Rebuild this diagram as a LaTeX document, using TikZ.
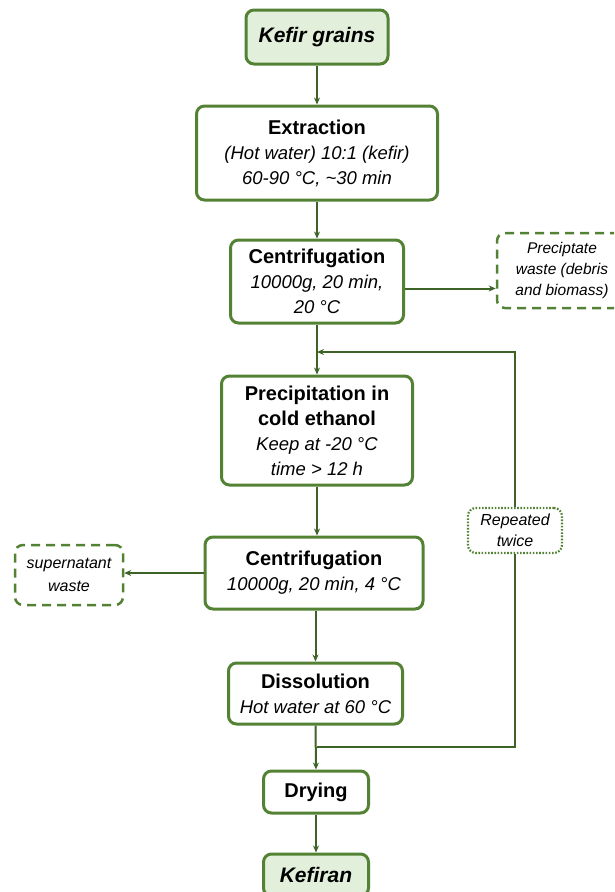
\documentclass[tikz,border=0pt]{standalone}
\usepackage{fontspec}
\setmainfont{Liberation Sans}
\usetikzlibrary{arrows.meta}
\definecolor{boxgreen}{HTML}{548235}
\definecolor{linegreen}{HTML}{3D6326}
\definecolor{fillgreen}{HTML}{E2EFDA}
\newcommand{\ttl}[1]{{\fontsize{20}{25}\selectfont\bfseries #1}}
\newcommand{\dtl}[1]{{\fontsize{18.5}{25}\selectfont\itshape #1}}

\tikzset{
  procbox/.style={draw=boxgreen, line width=3pt, rounded corners=8pt, fill=white,
    align=center, inner sep=2pt, font=\fontsize{18.5}{25}\selectfont},
  endbox/.style={procbox, fill=fillgreen, font=\fontsize{21}{25}\selectfont\bfseries\itshape},
  wastebox/.style={draw=boxgreen, line width=2.5pt, rounded corners=8pt,
    dash pattern=on 9pt off 6pt, align=center, inner sep=2pt,
    font=\fontsize{15.5}{21}\selectfont\itshape},
  notebox/.style={wastebox, fill=white, dash pattern=on 1.6pt off 1.6pt, line width=2.2pt,
    font=\fontsize{16}{21}\selectfont\itshape},
  flow/.style={draw=linegreen, line width=2pt, -{Stealth[length=7pt,width=6pt]}},
  link/.style={draw=linegreen, line width=2pt}
}

\begin{document}
\begin{tikzpicture}[x=1pt,y=-1pt]
\clip (0,0) rectangle (614,892);

\node[endbox, minimum width=142, minimum height=54] (grains) at (317,37) {Kefir grains};
\node[procbox, minimum width=241, minimum height=94] (extr) at (317,153)
  {\ttl{Extraction}\\ \dtl{(Hot water) 10:1 (kefir)}\\ \dtl{60-90 °C, \textasciitilde30 min}};
\node[procbox, minimum width=173, minimum height=83] (centa) at (317,281.5)
  {\ttl{Centrifugation}\\ \dtl{10000g, 20 min,}\\ \dtl{20 °C}};
\node[wastebox, minimum width=130, minimum height=75] (pwaste) at (562,270.5)
  {Preciptate\\ waste (debris\\ and biomass)};
\node[procbox, minimum width=191, minimum height=109] (prec) at (317,430.5)
  {\ttl{Precipitation in}\\ \ttl{cold ethanol}\\ \dtl{Keep at -20 °C}\\ \dtl{time > 12 h}};
\node[procbox, minimum width=218, minimum height=72] (centb) at (314,573)
  {\ttl{Centrifugation}\\ \dtl{10000g, 20 min, 4 °C}};
\node[wastebox, minimum width=108, minimum height=60, font=\fontsize{16}{23}\selectfont\itshape]
  (swaste) at (69,575) {supernatant\\ waste};
\node[procbox, minimum width=174, minimum height=61] (diss) at (315.5,693.5)
  {\ttl{Dissolution}\\ \dtl{Hot water at 60 °C}};
\node[procbox, minimum width=105, minimum height=42] (dry) at (316,792) {\ttl{Drying}};
\node[endbox, minimum width=105, minimum height=42] (kefiran) at (316,875) {Kefiran};
\node[notebox, minimum width=94, minimum height=45] (twice) at (515,530.5)
  {Repeated\\ twice};

\coordinate (loopin) at (317,352);
\coordinate (loopout) at (317,747);

\draw[flow] (grains) -- (extr);
\draw[flow] (extr.south) -- (centa.north);
\draw[flow] ([yshift=-7pt]centa.east) -- ([yshift=-7pt]centa.east -| pwaste.west);
\draw[flow] (centa.south) -- (prec.north);
\draw[flow] (prec.south) -- (prec.south |- centb.north);
\draw[flow] (centb.west) -- (centb.west -| swaste.east);
\draw[flow] (centb.south -| diss.north) -- (diss.north);
\draw[flow] (diss.south) -- (dry.north);
\draw[flow] (dry.south) -- (kefiran.north);

% loop back
\draw[link] (loopout) -| (twice.south);
\draw[flow] (twice.north) |- (loopin);
\end{tikzpicture}
\end{document}
